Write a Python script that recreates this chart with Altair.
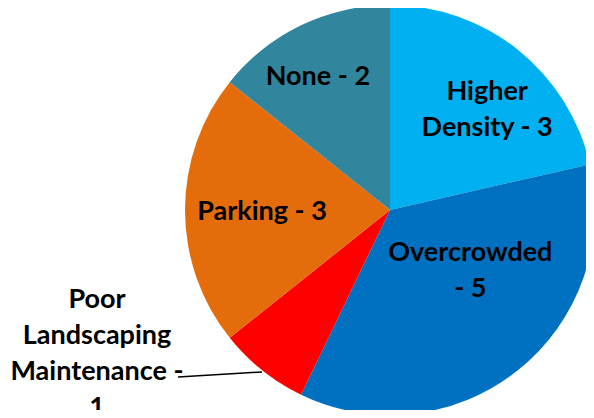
import altair as alt
import pandas as pd

categories = ["Higher Density", "Overcrowded", "Poor Landscaping Maintenance", "Parking", "None"]
values = [3, 5, 1, 3, 2]
colors = ["#00B0F0", "#0070C0", "#FF0000", "#E46C0A", "#31859C"]
labels = ["Higher\nDensity - 3", "Overcrowded\n- 5", "Poor\nLandscaping\nMaintenance -\n1", "Parking - 3", "None - 2"]

df = pd.DataFrame({"category": categories, "value": values, "idx": list(range(len(values))), "label": labels})
total = sum(values)

CX, CY, R = 382, 202, 205
FONT = "Lato"
FS = 27
LH = 36

theta_scale = alt.Scale(domain=[0, total])

pie = alt.Chart(df).mark_arc(outerRadius=R, stroke=None).encode(
    theta=alt.Theta("value:Q", stack=True, scale=theta_scale),
    order=alt.Order("idx:Q"),
    color=alt.Color("category:N", scale=alt.Scale(domain=categories, range=colors), legend=None),
    x=alt.value(CX), y=alt.value(CY),
)

stacked = alt.Chart(df).transform_stack(
    stack="value", as_=["v0", "v1"], groupby=[], sort=[alt.SortField("idx", order="ascending")]
).transform_calculate(mid="(datum.v0 + datum.v1) / 2")

def inside_label(cat, radius, dx, dy):
    return stacked.transform_filter(alt.datum.category == cat).mark_text(
        radius=radius, dx=dx, dy=dy, font=FONT, fontSize=FS, fontWeight="bold",
        color="black", lineBreak="\n", lineHeight=LH, align="center", baseline="middle",
    ).encode(
        theta=alt.Theta("mid:Q", scale=theta_scale),
        text="label:N",
        x=alt.value(CX), y=alt.value(CY),
    )

lab_hd = inside_label("Higher Density", 135, 13, 6 - LH / 2)
lab_oc = inside_label("Overcrowded", 100, 18, -17 - LH / 2)
lab_pk = inside_label("Parking", 130, 2, 2)
lab_no = inside_label("None", 150, -7, 2)

lab_pl = alt.Chart(df).transform_filter(alt.datum.category == "Poor Landscaping Maintenance").mark_text(
    font=FONT, fontSize=FS, fontWeight="bold", color="black", lineBreak="\n", lineHeight=LH,
    align="center", baseline="middle",
).encode(text="label:N", x=alt.value(89), y=alt.value(292))

leader = alt.Chart(df).transform_filter(alt.datum.category == "Poor Landscaping Maintenance").mark_rule(
    color="black", strokeWidth=1.5
).encode(x=alt.value(170), x2=alt.value(254), y=alt.value(369), y2=alt.value(364))

chart = alt.layer(pie, leader, lab_hd, lab_oc, lab_pk, lab_no, lab_pl).properties(
    width=578, height=402, padding=0, autosize="none"
).configure_view(stroke=None)

chart.save("out.html", embed_options={"renderer": "svg", "actions": False})
